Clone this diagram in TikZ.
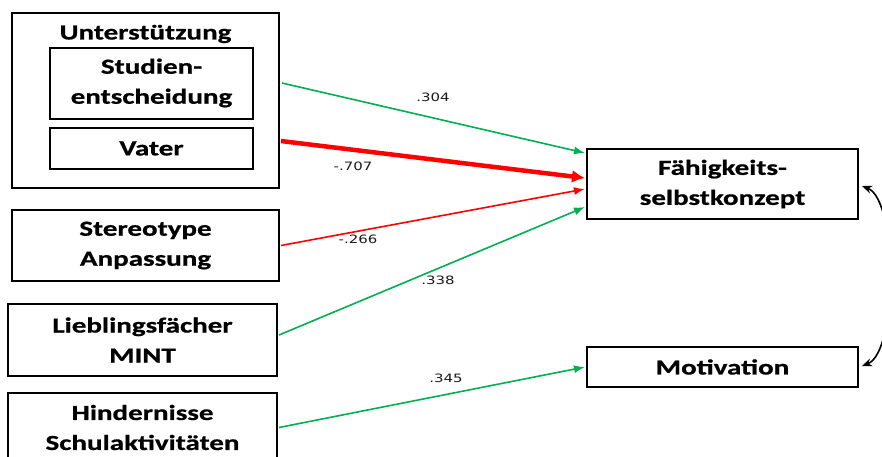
\documentclass[tikz,border=0pt]{standalone}
\usepackage{fontspec}
\usetikzlibrary{arrows.meta}
\newfontfamily\boxfont{Carlito}[FakeStretch=1.35,FakeBold=0.8]
\newfontfamily\numfont{DejaVu Sans}[FakeStretch=1.3]
\definecolor{posgreen}{RGB}{0,176,80}
\definecolor{negred}{RGB}{255,0,0}
\begin{document}
\begin{tikzpicture}[x=1pt,y=-1pt,
  box/.style={draw=black,line width=2pt,inner sep=0pt,align=center,
    font=\boxfont\bfseries\fontsize{21.5}{30}\selectfont},
  lbl/.style={font=\numfont\fontsize{11.5}{13}\selectfont,text=black!90,inner sep=0pt},
  poseffect/.style={draw=posgreen,line width=1.6pt,-{Latex[length=11pt,width=8pt]}},
  negeffect/.style={draw=negred,line width=1.6pt,-{Latex[length=11pt,width=8pt]}},
  negstrong/.style={draw=negred,line width=4.5pt,-{Latex[length=13pt,width=13pt]}},
  corr/.style={draw=black,line width=1.6pt,{Stealth[length=10pt,width=8pt]}-{Stealth[length=10pt,width=8pt]}}]
\useasboundingbox (0,0) rectangle (882,456);

% predictors
\node[box,minimum width=267pt,minimum height=175pt] (u) at (145.5,100) {};
\node[box,draw=none] (utitle) at (145.5,34) {Unterstützung};
\node[box,minimum width=203pt,minimum height=71pt] (studien) at (151.5,83) {Studien-\\entscheidung};
\node[box,minimum width=203pt,minimum height=41pt] (vater) at (151.5,148.5) {Vater};
\node[box,minimum width=267pt,minimum height=71pt] (stereo) at (145.5,245.5) {Stereotype\\Anpassung};
\node[box,minimum width=269pt,minimum height=72pt] (mint) at (142.5,340) {Lieblingsfächer\\MINT};
\node[box,minimum width=269pt,minimum height=69pt] (hind) at (142.5,427.5) {Hindernisse\\Schulaktivitäten};

% outcomes
\node[box,minimum width=271pt,minimum height=70pt] (fsk) at (722.5,184) {Fähigkeits-\\selbstkonzept};
\node[box,minimum width=271pt,minimum height=40pt] (mot) at (722.5,367) {Motivation};

% paths
\draw[poseffect] ([yshift=17pt,xshift=2pt]u.east) -- ([yshift=31pt,xshift=-1pt]fsk.west)
  node[lbl] at (433,97) {.304};
\draw[negstrong] ([yshift=-41pt,xshift=1pt]u.east) -- ([yshift=6pt,xshift=-1pt]fsk.west)
  node[lbl] at (353,166) {-.707};
\draw[negeffect] ([xshift=1pt]stereo.east) -- ([yshift=-5pt,xshift=-1pt]fsk.west)
  node[lbl] at (358,239) {-.266};
\draw[poseffect] ([yshift=5pt,xshift=1pt]mint.east) -- ([yshift=-23pt,xshift=-1pt]fsk.west)
  node[lbl] at (438,280) {.338};
\draw[poseffect] ([xshift=1pt]hind.east) -- ([xshift=-1pt]mot.west)
  node[lbl] at (446,378) {.345};

% correlation between outcomes
\draw[corr] ([xshift=3pt,yshift=-2pt]fsk.east) .. controls (898,200) and (898,352) .. ([xshift=3pt,yshift=1pt]mot.east);
\end{tikzpicture}
\end{document}
